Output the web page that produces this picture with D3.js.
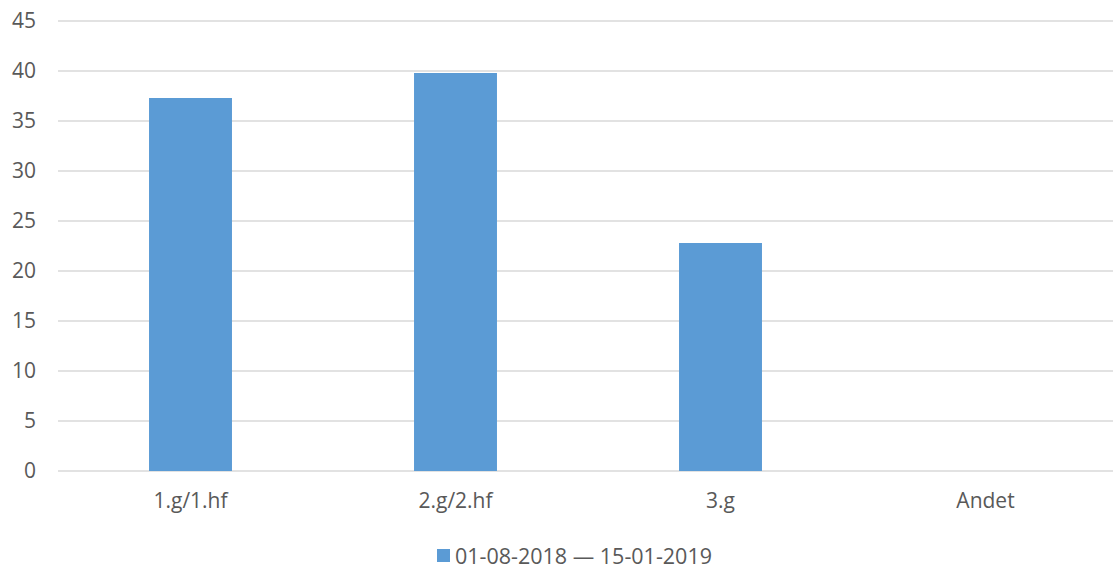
<!DOCTYPE html>
<html>
<head>
<meta charset="utf-8">
<script src="https://cdn.jsdelivr.net/npm/d3@7"></script>
<style>
  body { margin: 0; background: #fff; }
  text { font-family: "Open Sans", sans-serif; fill: #595959; }
</style>
</head>
<body>
<div id="chart"></div>
<script>
// Data
var categories = ["1.g/1.hf", "2.g/2.hf", "3.g", "Andet"];
var values = [37.3, 39.8, 22.8, 0];
var yTicks = [0, 5, 10, 15, 20, 25, 30, 35, 40, 45];
var seriesName = "01-08-2018 \u2014 15-01-2019";

var svgWidth = 1113;
var svgHeight = 569;
var margin = { top: 21, right: 0, bottom: 98, left: 58 };
var width = svgWidth - margin.left - margin.right;
var height = svgHeight - margin.top - margin.bottom;

var svg = d3.select("#chart")
    .append("svg")
    .attr("width", svgWidth)
    .attr("height", svgHeight);

var chartGroup = svg.append("g")
    .attr("transform", `translate(${margin.left}, ${margin.top})`);

// the category band runs slightly past the right edge of the picture
var xScale = d3.scaleBand()
    .domain(categories)
    .range([0, 1060])
    .paddingInner(0.687)
    .paddingOuter(0.3435);

var yScale = d3.scaleLinear()
    .domain([0, 45])
    .range([height, 0]);

// gridlines
chartGroup.selectAll(".grid")
    .data(yTicks)
    .enter()
    .append("line")
    .attr("x1", 0)
    .attr("x2", width)
    .attr("y1", d => yScale(d))
    .attr("y2", d => yScale(d))
    .attr("stroke", "#d9d9d9")
    .attr("stroke-width", 1.5);

// y labels
var leftAxis = d3.axisLeft(yScale).tickValues(yTicks).tickSize(0).tickPadding(22);
var yAxisG = chartGroup.append("g").call(leftAxis);
yAxisG.select(".domain").remove();
yAxisG.selectAll("text")
    .attr("font-size", "21px")
    .attr("font-family", "Open Sans, sans-serif")
    .attr("fill", "#595959");

// bars
chartGroup.selectAll("rect.bar")
    .data(values)
    .enter()
    .append("rect")
    .attr("class", "bar")
    .attr("x", (d, i) => xScale(categories[i]))
    .attr("width", xScale.bandwidth())
    .attr("y", d => yScale(d))
    .attr("height", d => height - yScale(d))
    .attr("fill", "#5b9bd5");

// x labels
var bottomAxis = d3.axisBottom(xScale).tickSize(0).tickPadding(22);
var xAxisG = chartGroup.append("g")
    .attr("transform", `translate(0, ${height})`)
    .call(bottomAxis);
xAxisG.select(".domain").remove();
xAxisG.selectAll("text")
    .attr("font-size", "21px")
    .attr("font-family", "Open Sans, sans-serif")
    .attr("fill", "#595959");

// legend
var legend = svg.append("g").attr("transform", "translate(437, 549)");
legend.append("rect")
    .attr("width", 13)
    .attr("height", 13)
    .attr("fill", "#5b9bd5");
legend.append("text")
    .attr("x", 18)
    .attr("y", 14.5)
    .attr("font-size", "21.5px")
    .attr("textLength", 257)
    .text(seriesName);
</script>
</body>
</html>
